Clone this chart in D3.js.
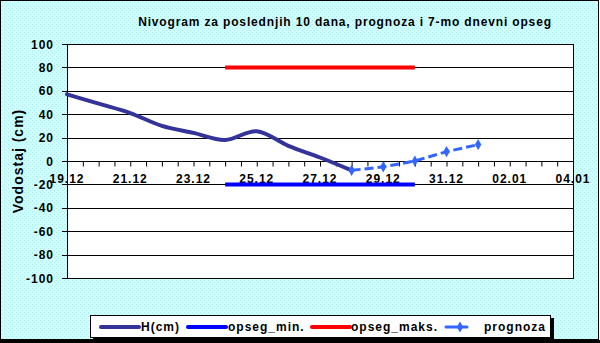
<!DOCTYPE html>
<html>
<head>
<meta charset="utf-8">
<script src="https://cdn.jsdelivr.net/npm/d3@7"></script>
<style>
  body { margin: 0; background: #fff; }
  svg { display: block; font-family: Arial, "Liberation Sans", sans-serif; font-weight: bold; }
</style>
</head>
<body>
<div id="chart"></div>
<script>
// days counted from 19.12
const xTickLabels = ['19.12', '21.12', '23.12', '25.12', '27.12', '29.12', '31.12', '02.01', '04.01'];
const yTicks = [-100, -80, -60, -40, -20, 0, 20, 40, 60, 80, 100];

const hDays = [0, 1, 2, 3, 4, 5, 6, 7, 8, 9];
const hValues = [57, 49, 41, 30, 24, 18, 25.5, 13, 3, -8];

const progDays = [9, 10, 11, 12, 13];
const progValues = [-8, -5, 0, 8, 14];

const rangeDays = [5, 11];
const opsegMin = [-20, -20];
const opsegMaks = [80, 80];

const width = 600, height = 343;
const plot = { left: 67, right: 573, top: 44, bottom: 278 };

const svg = d3.select('#chart').append('svg')
  .attr('width', width)
  .attr('height', height);

// dotted cyan fill like the original
const pattern = svg.append('defs').append('pattern')
  .attr('id', 'dots')
  .attr('width', 4).attr('height', 4)
  .attr('patternUnits', 'userSpaceOnUse');
pattern.append('rect').attr('width', 4).attr('height', 4).attr('fill', '#ccffff');
pattern.append('rect').attr('x', 0).attr('y', 0).attr('width', 1).attr('height', 1).attr('fill', '#b4eaea');
pattern.append('rect').attr('x', 2).attr('y', 2).attr('width', 1).attr('height', 1).attr('fill', '#b4eaea');

// chart area background + border
svg.append('rect')
  .attr('x', 0.5).attr('y', 0.5)
  .attr('width', 598).attr('height', 339)
  .attr('fill', 'url(#dots)')
  .attr('stroke', '#000');
svg.append('rect')
  .attr('x', 0).attr('y', 340)
  .attr('width', 600).attr('height', 3)
  .attr('fill', '#000');

const x = d3.scaleLinear().domain([0, 16]).range([plot.left, plot.right]);
const y = d3.scaleLinear().domain([-100, 100]).range([plot.bottom, plot.top]);

// plot area
svg.append('rect')
  .attr('x', plot.left + 0.5).attr('y', plot.top + 0.5)
  .attr('width', plot.right - plot.left).attr('height', plot.bottom - plot.top)
  .attr('fill', '#fff')
  .attr('stroke', '#000');

// gridlines
svg.append('g')
  .selectAll('line')
  .data(yTicks)
  .enter()
  .append('line')
  .attr('x1', plot.left - 5)
  .attr('x2', plot.right)
  .attr('y1', d => Math.round(y(d)) + 0.5)
  .attr('y2', d => Math.round(y(d)) + 0.5)
  .attr('stroke', '#000');

// y tick labels
svg.append('g')
  .selectAll('text')
  .data(yTicks)
  .enter()
  .append('text')
  .attr('x', 54)
  .attr('y', d => y(d) + 4.5)
  .attr('text-anchor', 'end')
  .attr('font-size', 12)
  .attr('letter-spacing', 1)
  .text(d => d);

// x axis at zero
const y0 = Math.round(y(0)) + 0.5;
const xAxis = svg.append('g')
  .attr('transform', 'translate(0,' + y0 + ')')
  .call(d3.axisBottom(x)
    .tickValues(d3.range(0, 16.5, 0.5))
    .tickSize(5)
    .tickFormat(''));
xAxis.select('.domain').remove();
xAxis.selectAll('line').attr('stroke', '#000');

svg.append('g')
  .selectAll('text')
  .data(xTickLabels)
  .enter()
  .append('text')
  .attr('x', (d, i) => x(i * 2))
  .attr('y', 183)
  .attr('text-anchor', 'middle')
  .attr('font-size', 12)
  .attr('letter-spacing', 1)
  .text(d => d);

// range lines
const rangeLine = d3.line()
  .x((d, i) => x(rangeDays[i]))
  .y(d => y(d));

svg.append('path')
  .datum(opsegMaks)
  .attr('d', rangeLine)
  .attr('fill', 'none')
  .attr('stroke', '#ff0000')
  .attr('stroke-width', 4);

svg.append('path')
  .datum(opsegMin)
  .attr('d', rangeLine)
  .attr('fill', 'none')
  .attr('stroke', '#0000ff')
  .attr('stroke-width', 4);

// H(cm)
svg.append('path')
  .datum(hValues)
  .attr('d', d3.line()
    .x((d, i) => x(hDays[i]))
    .y(d => y(d))
    .curve(d3.curveCatmullRom.alpha(0.5)))
  .attr('fill', 'none')
  .attr('stroke', '#333399')
  .attr('stroke-width', 4)
  .attr('stroke-linecap', 'round');

// prognoza
svg.append('path')
  .datum(progValues)
  .attr('d', d3.line()
    .x((d, i) => x(progDays[i]))
    .y(d => y(d)))
  .attr('fill', 'none')
  .attr('stroke', '#3366ff')
  .attr('stroke-width', 3)
  .attr('stroke-dasharray', '9,4');

const diamond = d3.symbol().type(d3.symbolDiamond).size(36);
svg.append('g')
  .selectAll('path')
  .data(progValues)
  .enter()
  .append('path')
  .attr('d', diamond)
  .attr('transform', (d, i) => 'translate(' + x(progDays[i]) + ',' + y(d) + ')')
  .attr('fill', '#3366ff');

// title
svg.append('text')
  .attr('x', 345)
  .attr('y', 26)
  .attr('text-anchor', 'middle')
  .attr('font-size', 12)
  .attr('letter-spacing', 0.85)
  .text('Nivogram za poslednjih 10 dana, prognoza i 7-mo dnevni opseg');

// y axis title
svg.append('text')
  .attr('transform', 'translate(23,161) rotate(-90)')
  .attr('text-anchor', 'middle')
  .attr('font-size', 14)
  .attr('letter-spacing', 1)
  .text('Vodostaj (cm)');

// legend
const legend = svg.append('g');
legend.append('rect')
  .attr('x', 93).attr('y', 318)
  .attr('width', 461).attr('height', 22)
  .attr('fill', '#000');
legend.append('rect')
  .attr('x', 90.5).attr('y', 315.5)
  .attr('width', 460).attr('height', 22)
  .attr('fill', '#fff')
  .attr('stroke', '#000');

const legendItems = [
  { name: 'H(cm)', color: '#333399', x1: 101, x2: 139, tx: 141 },
  { name: 'opseg_min.', color: '#0000ff', x1: 188, x2: 226, tx: 228 },
  { name: 'opseg_maks.', color: '#ff0000', x1: 312, x2: 350, tx: 351 },
  { name: 'prognoza', color: '#3366ff', x1: 446, x2: 467, tx: 484, marker: true }
];

legendItems.forEach(item => {
  legend.append('line')
    .attr('x1', item.x1).attr('x2', item.x2)
    .attr('y1', 327).attr('y2', 327)
    .attr('stroke', item.color)
    .attr('stroke-width', item.marker ? 3 : 4)
    .attr('stroke-linecap', 'round');
  if (item.marker) {
    legend.append('path')
      .attr('d', diamond)
      .attr('transform', 'translate(460,327)')
      .attr('fill', item.color);
  }
  legend.append('text')
    .attr('x', item.tx)
    .attr('y', 331)
    .attr('font-size', 12)
    .attr('letter-spacing', 1)
    .text(item.name);
});
</script>
</body>
</html>
